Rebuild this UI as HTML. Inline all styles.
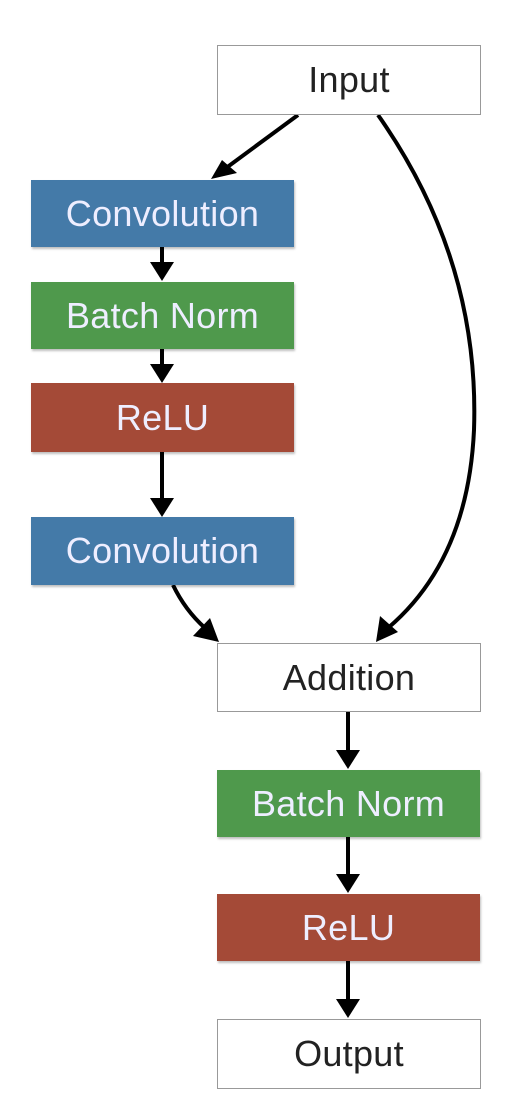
<!DOCTYPE html>
<html><head><meta charset="utf-8"><style>
html,body{margin:0;padding:0;background:#fff;}
body{width:518px;height:1106px;position:relative;overflow:hidden;font-family:"Liberation Sans",sans-serif;}
.b{position:absolute;display:flex;align-items:center;justify-content:center;font-size:36px;box-sizing:border-box;letter-spacing:0.3px;}
.w{background:#fff;border:1.5px solid #999;color:#222;}
.c{color:#eef;box-shadow:1px 2px 2px rgba(0,0,0,0.25);}
.blue{background:#447aa8;}.green{background:#4f994c;}.red{background:#a44a37;}
svg{position:absolute;left:0;top:0;}
</style></head><body>
<svg width="518" height="1106">
<g stroke="#000" stroke-width="4" fill="none">
<line x1="298" y1="115" x2="222" y2="171"/>
<line x1="162" y1="247" x2="162" y2="264"/>
<line x1="162" y1="349" x2="162" y2="366"/>
<line x1="162" y1="452" x2="162" y2="500"/>
<path d="M173,585 Q185,610 205,628"/>
<path d="M378,115 Q480,260 474,430 Q468,560 388,628"/>
<line x1="348" y1="712" x2="348" y2="752"/>
<line x1="348" y1="837" x2="348" y2="876"/>
<line x1="348" y1="961" x2="348" y2="1000"/>
</g>
<g fill="#000">
<path d="M211,179 L222,160 L237,173 Z"/>
<path d="M150,262 L174,262 L162,281 Z"/>
<path d="M150,364 L174,364 L162,383 Z"/>
<path d="M150,498 L174,498 L162,517 Z"/>
<path d="M219,642 L193,636 L210,618 Z"/>
<path d="M376,642 L380,616 L398,632 Z"/>
<path d="M336,750 L360,750 L348,769 Z"/>
<path d="M336,874 L360,874 L348,893 Z"/>
<path d="M336,999 L360,999 L348,1018 Z"/>
</g>
</svg>
<div class="b w" style="left:217px;top:45px;width:264px;height:70px;">Input</div>
<div class="b c blue" style="left:31px;top:180px;width:263px;height:67px;">Convolution</div>
<div class="b c green" style="left:31px;top:282px;width:263px;height:67px;">Batch Norm</div>
<div class="b c red" style="left:31px;top:383px;width:263px;height:69px;">ReLU</div>
<div class="b c blue" style="left:31px;top:517px;width:263px;height:68px;">Convolution</div>
<div class="b w" style="left:217px;top:643px;width:264px;height:69px;">Addition</div>
<div class="b c green" style="left:217px;top:770px;width:263px;height:67px;">Batch Norm</div>
<div class="b c red" style="left:217px;top:894px;width:263px;height:67px;">ReLU</div>
<div class="b w" style="left:217px;top:1019px;width:264px;height:70px;">Output</div>
</body></html>
